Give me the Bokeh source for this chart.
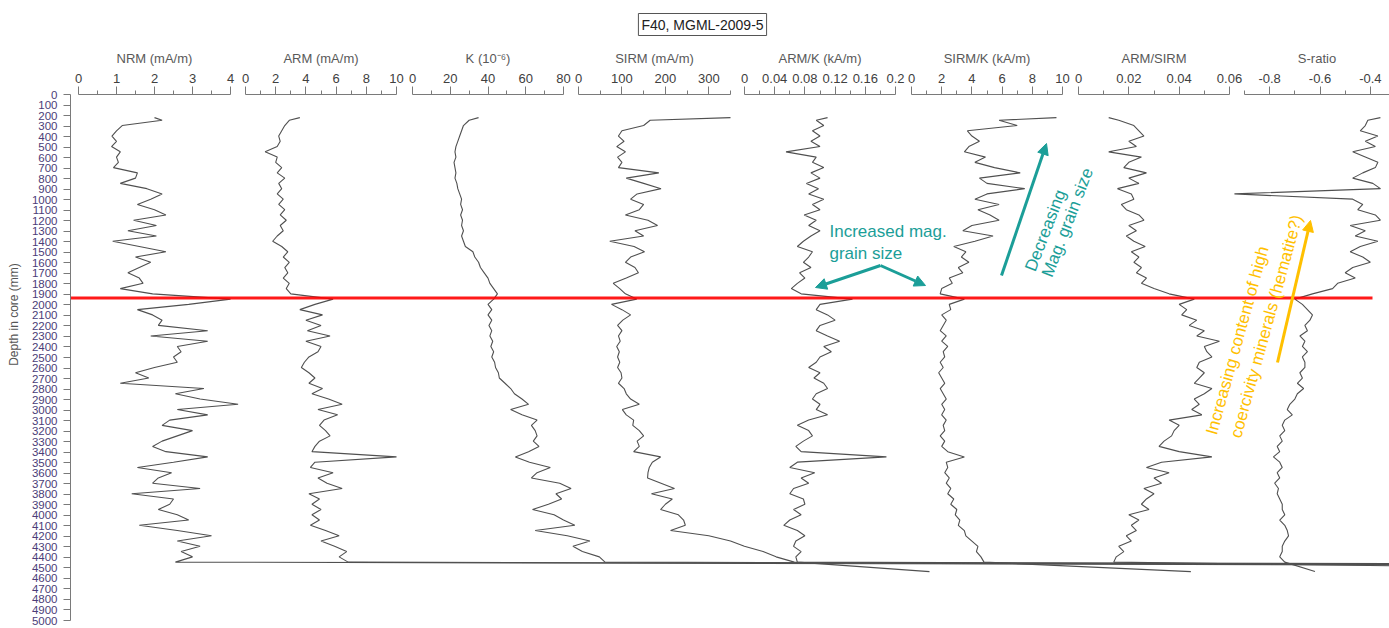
from bokeh.plotting import figure
from bokeh.models import (Range1d, LinearAxis, FixedTicker, CustomJSTickFormatter,
                          Label, Arrow, NormalHead)
from bokeh.embed import file_html
from bokeh.resources import INLINE

# ---------------------------------------------------------------------------
# Core F40, MGML-2009-5 : down-core magnetic parameters
# ---------------------------------------------------------------------------
depth_mm = [220, 245, 295, 345, 395, 445, 495, 545, 595, 645,
            695, 745, 795, 845, 895, 945, 995, 1045, 1095, 1145,
            1195, 1245, 1295, 1345, 1395, 1445, 1495, 1545, 1595, 1645,
            1695, 1745, 1795, 1845, 1895, 1945, 1995, 2045, 2095, 2145,
            2195, 2245, 2295, 2345, 2395, 2445, 2495, 2545, 2595, 2645,
            2695, 2745, 2795, 2845, 2895, 2945, 2995, 3045, 3095, 3145,
            3195, 3245, 3295, 3345, 3395, 3445, 3495, 3545, 3595, 3645,
            3695, 3745, 3795, 3845, 3895, 3945, 3995, 4045, 4095, 4145,
            4195, 4245, 4295, 4345, 4395, 4445, 4535]

nrm_mAm = [2.0, 2.2, 1.15, 1.0, 0.88, 1.0, 0.87, 1.1, 1.0, 1.05,
           0.92, 1.55, 1.5, 1.1, 1.8, 2.2, 1.9, 1.55, 2.0, 2.3,
           1.45, 2.05, 1.3, 2.05, 0.9, 1.6, 2.3, 1.5, 1.9, 1.6,
           1.3, 1.6, 1.7, 1.1, 1.95, 4.0, 2.9, 1.55, 1.95, 2.2,
           2.1, 3.4, 1.9, 3.4, 2.6, 2.7, 2.5, 2.6, 2.0, 1.5,
           1.85, 1.1, 3.3, 2.55, 3.2, 4.2, 2.6, 3.4, 2.4, 2.2,
           3.0, 2.6, 2.2, 1.95, 2.3, 3.4, 2.5, 1.55, 2.45, 2.1,
           1.95, 3.2, 1.4, 2.5, 2.4, 2.1, 2.6, 2.9, 1.6, 2.6,
           3.5, 2.6, 3.2, 2.7, 3.0, 2.55, 110]

arm_mAm = [3.6, 2.9, 2.6, 2.4, 2.2, 2.3, 2.1, 1.3, 2.1, 2.0,
           2.4, 2.1, 2.6, 2.2, 2.4, 2.1, 2.5, 2.2, 2.6, 2.3,
           2.7, 2.3, 2.5, 2.1, 1.8, 2.4, 2.8, 2.5, 2.9, 2.6,
           2.8, 2.5, 2.9, 2.7, 3.0, 5.8, 4.6, 3.6, 5.1, 4.0,
           5.0, 4.1, 5.6, 4.0, 5.0, 4.8, 4.2, 3.9, 3.7, 4.2,
           4.6, 4.2, 5.1, 4.4, 5.5, 6.4, 4.8, 6.1, 5.2, 4.9,
           5.3, 5.6, 4.9, 4.6, 4.4, 10.0, 4.6, 4.3, 5.8, 4.8,
           5.4, 6.4, 4.2, 4.9, 4.4, 5.0, 4.4, 4.9, 4.3, 5.3,
           6.2, 5.0, 5.9, 6.7, 6.2, 6.8, 280]

k_1e6 = [35, 30, 27, 26, 25, 24, 23, 22.5, 23, 22,
         22.5, 23, 22.5, 23.5, 24, 25, 26, 25.5, 26.5, 25.5,
         26.5, 26, 27, 26, 27, 28, 32, 33, 35, 36,
         38, 40, 41, 43, 45, 43, 40, 42, 40, 42,
         40.5, 42, 41, 42.5, 41.5, 43, 42, 43.5, 44, 45.5,
         46, 49, 52, 54, 58, 61.5, 52, 58, 66, 63,
         65, 66, 64, 67, 61.5, 54.5, 62, 73, 66, 63,
         78, 84, 76, 79, 72, 63.6, 75, 80, 86, 65,
         82, 94, 85, 90, 99, 102, 2200]

sirm_mAm = [350, 165, 150, 100, 92, 105, 88, 108, 90, 100,
            92, 185, 110, 150, 190, 135, 120, 150, 140, 108,
            160, 182, 130, 150, 72, 128, 152, 120, 108, 130,
            138, 110, 80, 95, 108, 134, 76, 100, 120, 102,
            90, 100, 92, 96, 88, 94, 90, 95, 90, 98,
            100, 92, 105, 110, 120, 140, 101, 110, 127, 125,
            140, 150, 135, 140, 127, 189, 170, 163, 160, 159,
            190, 221, 168, 216, 200, 189, 230, 242, 246, 212,
            300, 350, 382, 425, 455, 497, 9000]

arm_k_kAm = [0.11, 0.095, 0.105, 0.09, 0.1, 0.088, 0.1, 0.055, 0.095, 0.09,
             0.105, 0.088, 0.1, 0.082, 0.098, 0.085, 0.105, 0.09, 0.1, 0.079,
             0.095, 0.085, 0.1, 0.088, 0.078, 0.07, 0.09, 0.085, 0.078, 0.088,
             0.073, 0.08, 0.07, 0.062, 0.075, 0.143, 0.1, 0.095, 0.11, 0.12,
             0.1, 0.095, 0.11, 0.126, 0.105, 0.115, 0.1, 0.095, 0.085, 0.1,
             0.092, 0.105, 0.11, 0.095, 0.09, 0.1, 0.095, 0.11, 0.085, 0.07,
             0.085, 0.09, 0.078, 0.068, 0.075, 0.188, 0.07, 0.06, 0.093, 0.075,
             0.085, 0.065, 0.06, 0.078, 0.08, 0.065, 0.075, 0.06, 0.052, 0.07,
             0.08, 0.068, 0.065, 0.075, 0.068, 0.07, 0.245]

sirm_k_kAm = [9.6, 5.8, 7.0, 3.7, 4.0, 4.5, 3.8, 3.5, 4.9, 4.2,
              5.5, 7.2, 4.5, 5.0, 7.5, 5.0, 4.2, 5.8, 4.4, 5.2,
              5.8, 4.0, 3.4, 5.4, 4.2, 2.8, 3.6, 3.3, 3.8, 3.1,
              3.4, 2.5, 2.7, 2.0, 1.9, 3.5, 2.5, 2.6, 2.0, 2.3,
              2.1, 1.9, 2.3, 2.0, 2.4, 2.1, 2.2, 1.9, 2.1, 1.8,
              2.0, 2.2, 1.9, 2.1, 2.3, 2.0, 2.2, 2.0, 2.3, 2.1,
              2.2, 1.9, 2.2, 2.0, 2.4, 3.5, 2.3, 2.4, 2.2, 2.5,
              2.3, 2.6, 2.4, 2.8, 2.6, 3.0, 2.9, 3.2, 3.1, 3.5,
              3.6, 4.0, 4.4, 4.3, 4.6, 4.8, 18.5]

arm_sirm = [0.012, 0.016, 0.022, 0.024, 0.026, 0.02, 0.023, 0.012, 0.025, 0.02,
            0.018, 0.027, 0.02, 0.024, 0.0155, 0.021, 0.022, 0.017, 0.019, 0.024,
            0.026, 0.02, 0.023, 0.019, 0.022, 0.0265, 0.021, 0.024, 0.022, 0.025,
            0.023, 0.027, 0.025, 0.03, 0.036, 0.046, 0.04, 0.043, 0.041, 0.047,
            0.044, 0.05, 0.047, 0.056, 0.05, 0.051, 0.053, 0.048, 0.047, 0.05,
            0.048, 0.046, 0.053, 0.05, 0.046, 0.048, 0.045, 0.049, 0.036, 0.04,
            0.038, 0.037, 0.034, 0.032, 0.04, 0.053, 0.033, 0.027, 0.036, 0.03,
            0.033, 0.026, 0.03, 0.027, 0.025, 0.028, 0.02, 0.024, 0.021, 0.023,
            0.019, 0.021, 0.016, 0.018, 0.015, 0.014, 0.3]

s_ratio = [-0.36, -0.41, -0.42, -0.44, -0.37, -0.42, -0.38, -0.47, -0.42, -0.37,
           -0.38, -0.43, -0.47, -0.39, -0.36, -0.94, -0.47, -0.43, -0.45, -0.38,
           -0.36, -0.48, -0.42, -0.46, -0.37, -0.44, -0.48, -0.43, -0.4, -0.47,
           -0.5, -0.46, -0.53, -0.55, -0.63, -0.7, -0.67, -0.65, -0.63, -0.64,
           -0.66, -0.65, -0.68, -0.66, -0.67, -0.65, -0.67, -0.66, -0.66, -0.68,
           -0.67, -0.69, -0.665, -0.69, -0.7, -0.72, -0.73, -0.71, -0.74, -0.75,
           -0.74, -0.76, -0.75, -0.77, -0.76, -0.785, -0.76, -0.75, -0.77, -0.76,
           -0.78, -0.765, -0.77, -0.76, -0.75, -0.75, -0.74, -0.76, -0.74, -0.73,
           -0.725, -0.74, -0.75, -0.75, -0.76, -0.74, -0.62]

depth_ticks = list(range(0, 5001, 100))
boundary_depth_mm = 1935

# key, axis title, values, axis min, axis max, major ticks, minor ticks
PANELS = [
    ("nrm", "NRM (mA/m)", nrm_mAm, 0, 4, [0, 1, 2, 3, 4], [0.5, 1.5, 2.5, 3.5]),
    ("arm", "ARM (mA/m)", arm_mAm, 0, 10, [0, 2, 4, 6, 8, 10], [1, 3, 5, 7, 9]),
    ("k", "K (10\u207b\u2076)", k_1e6, 0, 80, [0, 20, 40, 60, 80], [10, 30, 50, 70]),
    ("sirm", "SIRM (mA/m)", sirm_mAm, 0, 350, [0, 100, 200, 300], [50, 150, 250, 350]),
    ("armk", "ARM/K (kA/m)", arm_k_kAm, 0, 0.2,
     [0, 0.04, 0.08, 0.12, 0.16, 0.2], [0.02, 0.06, 0.1, 0.14, 0.18]),
    ("sirmk", "SIRM/K (kA/m)", sirm_k_kAm, 0, 10, [0, 2, 4, 6, 8, 10], [1, 3, 5, 7, 9]),
    ("armsirm", "ARM/SIRM", arm_sirm, 0, 0.06, [0, 0.02, 0.04, 0.06], [0.01, 0.03, 0.05]),
    ("sratio", "S-ratio", s_ratio, -0.9, -0.3, [-0.8, -0.6, -0.4], [-0.9, -0.7, -0.5, -0.3]),
]

# canvas columns where each track's axis starts and ends
TRACK_PX = [(78, 230), (245, 396), (412, 563), (578, 730),
            (744, 895), (911, 1062), (1078, 1229), (1244, 1395)]

# ---------------------------------------------------------------------------
WIDTH, HEIGHT = 1389, 628
FRAME_X0 = 70           # depth axis line
ZERO_ROW = 94           # canvas row of 0 mm
PX_PER_MM = 0.1052
FONT = "Liberation Sans"
TEAL = "#1b9e98"
GOLD = "#ffc000"
CURVE = "#505050"
AXIS_GREY = "#7a7a7a"


def depth_at(row):
    return (row - ZERO_ROW) / PX_PER_MM


p = figure(width=WIDTH, height=HEIGHT, output_backend="svg", toolbar_location=None,
           x_range=Range1d(FRAME_X0, WIDTH),
           y_range=Range1d(depth_at(HEIGHT), depth_at(0)),
           x_axis_location=None,
           min_border_left=FRAME_X0, min_border_right=0,
           min_border_top=0, min_border_bottom=0)
p.outline_line_color = None
p.grid.visible = False
p.background_fill_color = "white"
p.border_fill_color = "white"

# depth axis
yax = p.yaxis[0]
yax.bounds = (0, 5000)
yax.ticker = FixedTicker(ticks=depth_ticks, minor_ticks=[])
yax.axis_label = "Depth in core (mm)"
yax.axis_label_text_font = FONT
yax.axis_label_text_font_size = "12px"
yax.axis_label_text_font_style = "normal"
yax.axis_label_text_color = "#555555"
yax.axis_label_standoff = 8
yax.major_label_text_font = FONT
yax.major_label_text_font_size = "11.5px"
yax.major_label_text_color = "#4b3d78"
yax.major_label_standoff = 6
yax.major_tick_out = 7
yax.major_tick_in = 0
yax.axis_line_color = AXIS_GREY
yax.major_tick_line_color = AXIS_GREY

fmt = CustomJSTickFormatter(code="return String(Math.round(tick * 1e6) / 1e6)")

for (key, title, vals, lo, hi, majors, minors), (a, b) in zip(PANELS, TRACK_PX):
    per_px = (hi - lo) / (b - a)
    p.extra_x_ranges[key] = Range1d(lo - (a - FRAME_X0) * per_px,
                                    lo + (WIDTH - a) * per_px)
    ax = LinearAxis(x_range_name=key, fixed_location=0, bounds=(lo, hi),
                    ticker=FixedTicker(ticks=majors, minor_ticks=minors),
                    formatter=fmt, axis_label=title)
    ax.axis_label_text_font = FONT
    ax.axis_label_text_font_size = "13px"
    ax.axis_label_text_font_style = "normal"
    ax.axis_label_text_color = "#595959"
    ax.axis_label_standoff = 5
    ax.major_label_text_font = FONT
    ax.major_label_text_font_size = "13px"
    ax.major_label_text_color = "#404040"
    ax.major_label_standoff = 4
    ax.major_tick_out = 8
    ax.major_tick_in = 0
    ax.minor_tick_out = 4
    ax.minor_tick_in = 0
    ax.axis_line_color = AXIS_GREY
    ax.major_tick_line_color = AXIS_GREY
    ax.minor_tick_line_color = AXIS_GREY
    p.add_layout(ax, "above")

    p.line(x=vals, y=depth_mm, x_range_name=key, line_color=CURVE, line_width=1.1)

# lithological boundary
p.line(x=[FRAME_X0, 1372], y=[boundary_depth_mm, boundary_depth_mm],
       line_color="#ff0000", line_width=3, line_alpha=0.9)

# title box
p.add_layout(Label(x=702, y=depth_at(24), text="F40, MGML-2009-5",
                   text_align="center", text_baseline="middle",
                   text_font=FONT, text_font_size="14px", text_color="#222222",
                   border_line_color="#555555", border_line_width=1,
                   background_fill_color="white", padding=3))

# grain size annotations
for txt, row in (("Increased mag.", 231), ("grain size", 253)):
    p.add_layout(Label(x=829, y=depth_at(row), text=txt, text_align="left",
                       text_baseline="middle", text_font=FONT, text_font_size="17px",
                       text_color=TEAL))

for x_end, row_end in ((815, 287), (925, 285)):
    p.add_layout(Arrow(end=NormalHead(size=11, fill_color=TEAL, line_color=TEAL),
                       x_start=880, y_start=depth_at(265), x_end=x_end,
                       y_end=depth_at(row_end), line_color=TEAL, line_width=3))

p.add_layout(Arrow(end=NormalHead(size=11, fill_color=TEAL, line_color=TEAL),
                   x_start=1001, y_start=depth_at(275), x_end=1046,
                   y_end=depth_at(143), line_color=TEAL, line_width=3))
for txt, cx, row in (("Decreasing", 1045, 230), ("Mag. grain size", 1067, 222)):
    p.add_layout(Label(x=cx, y=depth_at(row), text=txt, angle=1.204,
                       text_align="center", text_baseline="middle", text_font=FONT,
                       text_font_size="17px", text_color=TEAL))

# coercivity annotation
p.add_layout(Arrow(end=NormalHead(size=11, fill_color=GOLD, line_color=GOLD),
                   x_start=1277, y_start=depth_at(362), x_end=1310,
                   y_end=depth_at(220), line_color=GOLD, line_width=3))
for txt, cx, row in (("Increasing content of high", 1237, 340),
                     ("coercivity minerals (hematite?)", 1266, 326)):
    p.add_layout(Label(x=cx, y=depth_at(row), text=txt, angle=1.30,
                       text_align="center", text_baseline="middle", text_font=FONT,
                       text_font_size="17px", text_color=GOLD))

open("out.html", "w").write(file_html(p, INLINE))
